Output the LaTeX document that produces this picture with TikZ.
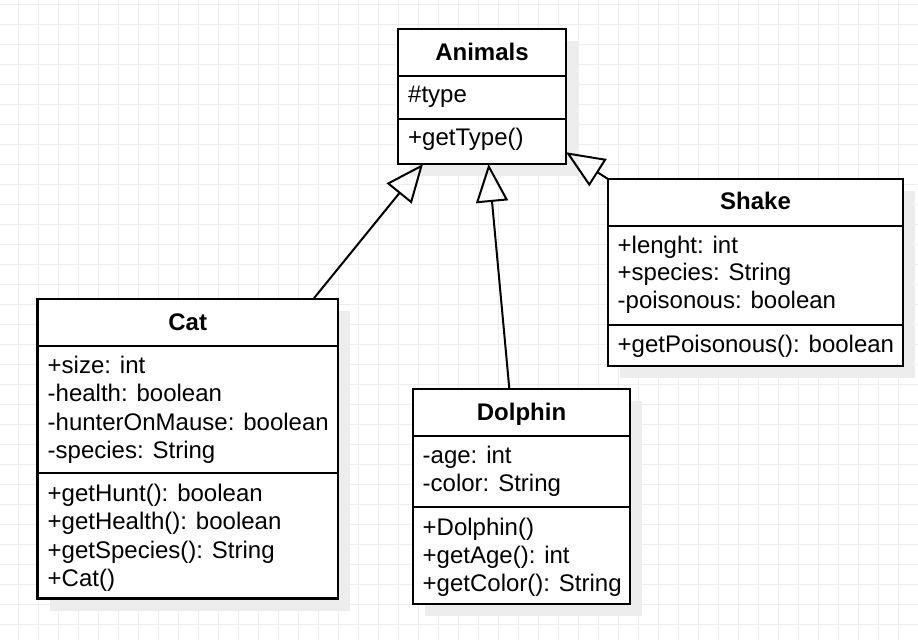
\documentclass[tikz,border=0pt]{standalone}
\usepackage{fontspec}
\setmainfont{Liberation Sans}
\usetikzlibrary{arrows.meta, calc, shadows}

\begin{document}
\begin{tikzpicture}[x=1pt, y=-1pt]
        \tikzstyle{gridline} = [draw=black!7, line width=1pt]
        \tikzstyle{classbox} = [rectangle, draw=black, line width=2.4pt, fill=white, anchor=north west, inner sep=0pt, outer sep=0pt,
            drop shadow={fill=black!7, opacity=1, shadow xshift=12pt, shadow yshift=-12pt}]
        \tikzstyle{divider} = [draw=black, line width=2.4pt]
        \tikzstyle{classname} = [anchor=base, inner sep=0pt, font=\fontsize{24}{28}\selectfont\bfseries]
        \tikzstyle{members} = [anchor=base west, inner sep=0pt, font=\fontsize{24}{28}\selectfont]
        \tikzstyle{inherit} = [-{Triangle[open, length=38pt, width=32pt]}, line width=2pt]

        \useasboundingbox (0,0) rectangle (918,640);
        \fill[white] (0,0) rectangle (918,640);
        \foreach \gx in {18,38,...,918} \draw[gridline] (\gx,0) -- (\gx,640);
        \foreach \gy in {4,24,...,640} \draw[gridline] (0,\gy) -- (918,\gy);

        % class boxes
        \node[classbox, minimum width=168pt, minimum height=135pt] (animals) at (398,29) {};
        \node[classbox, minimum width=300.5pt, minimum height=299.5pt] (cat) at (37.5,299) {};
        \node[classbox, minimum width=217pt, minimum height=215pt] (dolphin) at (413,389) {};
        \node[classbox, minimum width=295pt, minimum height=187pt] (shake) at (608,179) {};

        \draw[divider] (animals.west |- 0,76) -- (animals.east |- 0,76);
        \draw[divider] (animals.west |- 0,119) -- (animals.east |- 0,119);
        \draw[divider] (cat.west |- 0,346) -- (cat.east |- 0,346);
        \draw[divider] (cat.west |- 0,473) -- (cat.east |- 0,473);
        \draw[divider] (dolphin.west |- 0,436) -- (dolphin.east |- 0,436);
        \draw[divider] (dolphin.west |- 0,507) -- (dolphin.east |- 0,507);
        \draw[divider] (shake.west |- 0,226) -- (shake.east |- 0,226);
        \draw[divider] (shake.west |- 0,325) -- (shake.east |- 0,325);

        % Animals
        \node[classname] (animalsName) at ($(animals.north)+(0,31)$) {Animals};
        \node[members] (animalsField1) at (408,102) {\#type};
        \node[members] (animalsMethod1) at (408,145) {+getType()};

        % Cat
        \node[classname] (catName) at ($(cat.north)+(0,31)$) {Cat};
        \foreach \txt [count=\i] in {+size: int, -health: boolean, -hunterOnMause: boolean, -species: String}
            \node[members] (catField\i) at (47.5,{373+28.5*(\i-1)}) {\txt};
        \foreach \txt [count=\i] in {+getHunt(): boolean, +getHealth(): boolean, +getSpecies(): String, +Cat()}
            \node[members] (catMethod\i) at (47.5,{501+28.5*(\i-1)}) {\txt};

        % Dolphin
        \node[classname] (dolphinName) at ($(dolphin.north)+(0,31)$) {Dolphin};
        \foreach \txt [count=\i] in {-age: int, -color: String}
            \node[members] (dolphinField\i) at (422.5,{463+28*(\i-1)}) {\txt};
        \foreach \txt [count=\i] in {+Dolphin(), +getAge(): int, +getColor(): String}
            \node[members] (dolphinMethod\i) at (422.5,{535+28*(\i-1)}) {\txt};

        % Shake
        \node[classname] (shakeName) at ($(shake.north)+(0,30)$) {Shake};
        \foreach \txt [count=\i] in {+lenght: int, +species: String, -poisonous: boolean}
            \node[members] (shakeField\i) at (617.5,{253+27.5*(\i-1)}) {\txt};
        \node[members] (shakeMethod1) at (617.5,352) {+getPoisonous(): boolean};

        % generalisation
        \draw[inherit] ($(cat.north west)!0.918!(cat.north east)$) -- ($(animals.south west)!0.149!(animals.south east)$);
        \draw[inherit] ($(dolphin.north west)!0.444!(dolphin.north east)$) -- ($(animals.south west)!0.539!(animals.south east)$);
        \draw[inherit] (shake.north west) -- ($(animals.north east)!0.913!(animals.south east)$);
    \end{tikzpicture}
\end{document}
